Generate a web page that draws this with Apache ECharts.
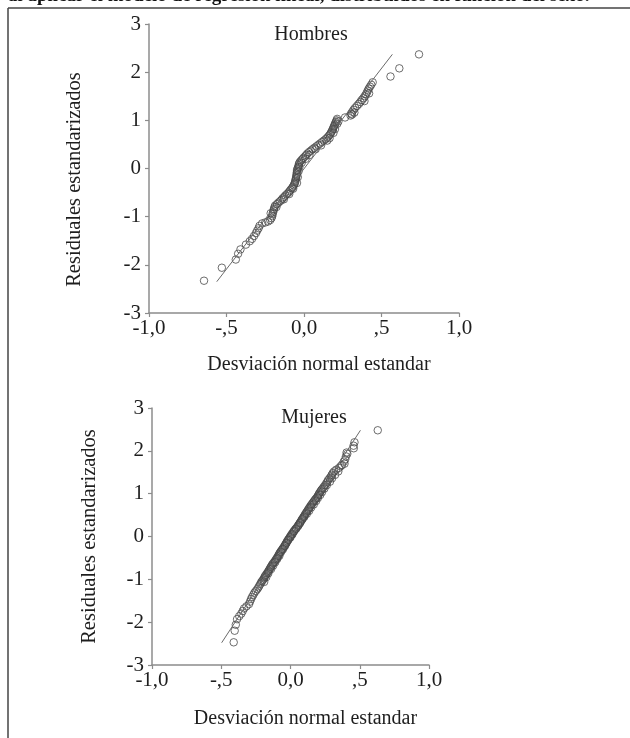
<!DOCTYPE html>
<html>
<head>
<meta charset="utf-8">
<script src="https://cdn.jsdelivr.net/npm/echarts@6/dist/echarts.min.js"></script>
<style>
  html, body { margin: 0; padding: 0; background: #fff; }
  #main { width: 630px; height: 738px; }
</style>
</head>
<body>
<div id="main"></div>
<script>
// datos (residuales vs desviacion normal)
var hombresX = [
  -0.645, -0.53, -0.44, -0.425, -0.41, -0.375, -0.35, -0.335, -0.322, -0.31,
  -0.302, -0.293, -0.287, -0.27, -0.25, -0.232, -0.218, -0.21, -0.205, -0.203,
  -0.2, -0.196, -0.194, -0.19, -0.186, -0.175, -0.165, -0.155, -0.145, -0.138,
  -0.128, -0.12, -0.11, -0.1, -0.093, -0.086, -0.078, -0.072, -0.066, -0.062,
  -0.058, -0.056, -0.054, -0.052, -0.05, -0.048, -0.047, -0.046, -0.045, -0.044,
  -0.04, -0.036, -0.034, -0.032, -0.028, -0.02, -0.012, -0.004, 0.006, 0.014,
  0.022, 0.032, 0.044, 0.055, 0.067, 0.08, 0.092, 0.104, 0.116, 0.128,
  0.14, 0.15, 0.158, 0.166, 0.172, 0.177, 0.182, 0.186, 0.19, 0.194,
  0.198, 0.202, 0.206, 0.21, 0.214, 0.265, 0.3, 0.305, 0.312, 0.32,
  0.33, 0.342, 0.354, 0.364, 0.374, 0.384, 0.393, 0.4, 0.406, 0.412,
  0.418, 0.426, 0.434, 0.443, 0.558, 0.615, 0.742,
  -0.215, -0.178, -0.13, -0.095, -0.07, -0.045, -0.04, -0.035, -0.03, -0.015,
  0.01, 0.035, 0.075, 0.11, 0.15, 0.165, 0.19, 0.2, 0.215, 0.222,
  0.31, 0.325, 0.39, 0.42
];
var hombresY = [
  -2.33, -2.06, -1.89, -1.77, -1.68, -1.58, -1.51, -1.46, -1.40, -1.34,
  -1.29, -1.24, -1.19, -1.14, -1.12, -1.10, -1.07, -1.03, -0.99, -0.95,
  -0.91, -0.87, -0.84, -0.80, -0.77, -0.74, -0.71, -0.68, -0.65, -0.62,
  -0.59, -0.56, -0.53, -0.50, -0.47, -0.44, -0.41, -0.38, -0.35, -0.32,
  -0.29, -0.26, -0.23, -0.20, -0.17, -0.14, -0.11, -0.08, -0.05, -0.02,
  0.01, 0.04, 0.07, 0.10, 0.13, 0.16, 0.19, 0.22, 0.25, 0.28,
  0.31, 0.34, 0.37, 0.40, 0.43, 0.46, 0.49, 0.52, 0.55, 0.58,
  0.61, 0.64, 0.67, 0.70, 0.73, 0.76, 0.79, 0.82, 0.85, 0.88,
  0.91, 0.94, 0.97, 1.00, 1.03, 1.06, 1.10, 1.14, 1.18, 1.22,
  1.26, 1.30, 1.34, 1.38, 1.42, 1.46, 1.50, 1.54, 1.58, 1.62,
  1.66, 1.70, 1.74, 1.79, 1.91, 2.08, 2.37,
  -0.93, -0.80, -0.64, -0.53, -0.42, -0.30, -0.18, -0.06, 0.03, 0.12,
  0.20, 0.28, 0.40, 0.48, 0.58, 0.63, 0.74, 0.82, 0.93, 0.98,
  1.12, 1.16, 1.40, 1.56
];

var mujeresX = [
  -0.41, -0.403, -0.395, -0.386, -0.37, -0.355, -0.345, -0.335, -0.318, -0.3,
  -0.292, -0.285, -0.277, -0.268, -0.26, -0.25, -0.24, -0.232, -0.225, -0.218,
  -0.212, -0.205, -0.198, -0.192, -0.188, -0.183, -0.176, -0.17, -0.163, -0.158,
  -0.152, -0.147, -0.142, -0.136, -0.131, -0.124, -0.116, -0.11, -0.104, -0.098,
  -0.092, -0.087, -0.082, -0.077, -0.071, -0.064, -0.058, -0.051, -0.045, -0.04,
  -0.034, -0.029, -0.024, -0.018, -0.012, -0.006, 0.0, 0.006, 0.012, 0.019,
  0.026, 0.032, 0.04, 0.048, 0.056, 0.06, 0.066, 0.072, 0.078, 0.083,
  0.089, 0.095, 0.101, 0.106, 0.112, 0.118, 0.124, 0.13, 0.136, 0.142,
  0.148, 0.155, 0.162, 0.168, 0.175, 0.182, 0.19, 0.196, 0.202, 0.206,
  0.212, 0.218, 0.224, 0.232, 0.24, 0.25, 0.258, 0.266, 0.272, 0.282,
  0.292, 0.298, 0.305, 0.315, 0.33, 0.35, 0.362, 0.372, 0.39, 0.385,
  0.395, 0.4, 0.41, 0.405, 0.457, 0.455, 0.462, 0.63,
  -0.19, -0.175, -0.16, -0.14, -0.125, -0.11, -0.095, -0.08, -0.068, -0.055,
  -0.04, -0.028, -0.015, 0.0, 0.014, 0.025, 0.04, 0.056, 0.07, 0.085,
  0.1, 0.118, 0.135, 0.15, 0.168, 0.185, 0.198, 0.215, 0.228, 0.245,
  0.262, 0.285, 0.3, 0.322, 0.345
];
var mujeresY = [
  -2.47, -2.20, -2.06, -1.93, -1.86, -1.80, -1.74, -1.68, -1.63, -1.58,
  -1.52, -1.46, -1.41, -1.36, -1.31, -1.27, -1.23, -1.19, -1.15, -1.11,
  -1.07, -1.04, -1.01, -0.98, -0.95, -0.92, -0.89, -0.86, -0.83, -0.80,
  -0.77, -0.74, -0.71, -0.68, -0.65, -0.62, -0.59, -0.56, -0.53, -0.50,
  -0.47, -0.44, -0.41, -0.38, -0.35, -0.32, -0.29, -0.26, -0.23, -0.20,
  -0.17, -0.14, -0.11, -0.08, -0.05, -0.02, 0.01, 0.04, 0.07, 0.10,
  0.13, 0.16, 0.19, 0.22, 0.25, 0.28, 0.31, 0.34, 0.37, 0.40,
  0.43, 0.46, 0.49, 0.52, 0.55, 0.58, 0.61, 0.64, 0.67, 0.70,
  0.73, 0.76, 0.79, 0.82, 0.85, 0.88, 0.91, 0.94, 0.97, 1.00,
  1.03, 1.06, 1.09, 1.12, 1.16, 1.20, 1.24, 1.28, 1.32, 1.36,
  1.40, 1.44, 1.48, 1.52, 1.56, 1.60, 1.64, 1.67, 1.70, 1.75,
  1.80, 1.87, 1.93, 1.96, 2.06, 2.12, 2.20, 2.48,
  -1.06, -0.95, -0.86, -0.76, -0.68, -0.60, -0.52, -0.45, -0.36, -0.30,
  -0.22, -0.15, -0.08, -0.02, 0.05, 0.12, 0.18, 0.26, 0.32, 0.40,
  0.46, 0.53, 0.60, 0.68, 0.75, 0.83, 0.90, 0.97, 1.04, 1.12,
  1.20, 1.28, 1.36, 1.44, 1.52
];

// rectas de referencia (extremos)
var hombresLineX = [-0.563, 0.57];
var hombresLineY = [-2.35, 2.37];
var mujeresLineX = [-0.497, 0.505];
var mujeresLineY = [-2.48, 2.48];

var xTickLabels = ['-1,0', '-,5', '0,0', ',5', '1,0'];
var titulos = ['Hombres', 'Mujeres'];
var xNombre = 'Desviación normal estandar';
var yNombre = 'Residuales estandarizados';
var textoArriba = 'al aplicar el modelo de regresión lineal, distribuidos en función del sexo.';

var FONT = "'Liberation Serif', 'Times New Roman', serif";
var TXT = '#1e1e1e';
var AXIS = '#8c8c8c';

function pares(xs, ys) {
  var out = [];
  for (var i = 0; i < xs.length; i++) out.push([xs[i], ys[i]]);
  return out;
}

function xAxisCfg(idx, gap) {
  return {
    gridIndex: idx, type: 'value', min: -1, max: 1, interval: 0.5,
    splitLine: { show: false },
    axisLine: { onZero: false, lineStyle: { color: AXIS, width: 1.5 } },
    axisTick: { length: 4, lineStyle: { color: AXIS, width: 1.2 } },
    axisLabel: {
      color: TXT, fontFamily: FONT, fontSize: 21, margin: 5,
      formatter: function (v) { return xTickLabels[Math.round((v + 1) / 0.5)]; }
    },
    name: xNombre, nameLocation: 'middle', nameGap: gap,
    nameTextStyle: { color: TXT, fontFamily: FONT, fontSize: 20, padding: [0, 0, 0, 30] }
  };
}

function yAxisCfg(idx, gap, pad) {
  return {
    gridIndex: idx, type: 'value', min: -3, max: 3, interval: 1,
    splitLine: { show: false },
    axisLine: { onZero: false, lineStyle: { color: AXIS, width: 1.5 } },
    axisTick: { length: 4, lineStyle: { color: AXIS, width: 1.2 } },
    axisLabel: { color: TXT, fontFamily: FONT, fontSize: 21, margin: 8 },
    name: yNombre, nameLocation: 'middle', nameGap: gap,
    nameTextStyle: { color: TXT, fontFamily: FONT, fontSize: 20.5, padding: pad }
  };
}

var puntoStyle = { color: 'rgba(255,255,255,0)', borderColor: '#4a4a4a', borderWidth: 1 };
var lineaStyle = { color: '#6a6a6a', width: 1 };

var chart = echarts.init(document.getElementById('main'), null, { renderer: 'canvas' });
var option = {
  backgroundColor: '#fff',
  animation: false,
  title: [
    { text: titulos[0], left: 306, top: 20, textAlign: 'center',
      textStyle: { color: TXT, fontFamily: FONT, fontSize: 20, fontWeight: 'normal' } },
    { text: titulos[1], left: 309, top: 403, textAlign: 'center',
      textStyle: { color: TXT, fontFamily: FONT, fontSize: 20, fontWeight: 'normal' } }
  ],
  grid: [
    { left: 149, top: 24, width: 310, height: 289 },
    { left: 152, top: 408, width: 277, height: 257 }
  ],
  xAxis: [xAxisCfg(0, 42), xAxisCfg(1, 44)],
  yAxis: [yAxisCfg(0, 64, [0, 22, 0, 0]), yAxisCfg(1, 52, [0, 0, 0, 0])],
  series: [
    { type: 'scatter', xAxisIndex: 0, yAxisIndex: 0, symbol: 'circle', symbolSize: 7.5,
      itemStyle: puntoStyle, data: pares(hombresX, hombresY) },
    { type: 'line', xAxisIndex: 0, yAxisIndex: 0, symbol: 'none', lineStyle: lineaStyle,
      data: pares(hombresLineX, hombresLineY) },
    { type: 'scatter', xAxisIndex: 1, yAxisIndex: 1, symbol: 'circle', symbolSize: 7.5,
      itemStyle: puntoStyle, data: pares(mujeresX, mujeresY) },
    { type: 'line', xAxisIndex: 1, yAxisIndex: 1, symbol: 'none', lineStyle: lineaStyle,
      data: pares(mujeresLineX, mujeresLineY) }
  ],
  graphic: [
    { type: 'line', shape: { x1: 8, y1: 8, x2: 630, y2: 8 }, style: { stroke: '#444', lineWidth: 1.5 } },
    { type: 'line', shape: { x1: 8, y1: 8, x2: 8, y2: 738 }, style: { stroke: '#444', lineWidth: 1.5 } },
    { type: 'text', x: 8, y: -13,
      style: { text: textoArriba, fill: '#111', fontFamily: FONT, fontSize: 19, fontWeight: 'bold' } }
  ]
};
chart.setOption(option);
</script>
</body>
</html>
